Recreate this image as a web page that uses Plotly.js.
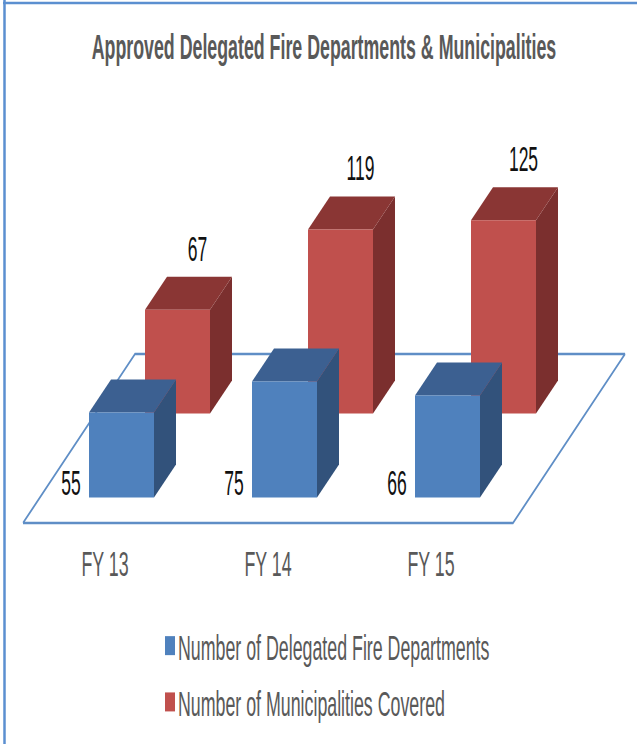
<!DOCTYPE html>
<html>
<head>
<meta charset="utf-8">
<script src="https://cdn.plot.ly/plotly-3.0.1.min.js"></script>
<style>
html,body{margin:0;padding:0;background:#fff;overflow:hidden;width:637px;height:744px}
#chart{transform-origin:0 0;position:absolute;left:0;top:0}
</style>
</head>
<body>
<div id="chart"></div>
<script>
// Data
var categories = ['FY 13', 'FY 14', 'FY 15'];
var delegatedDepartments = [55, 75, 66];
var municipalitiesCovered = [67, 119, 125];
var seriesNames = ['Number of Delegated Fire Departments', 'Number of Municipalities Covered'];

// Reference is squeezed horizontally: draw wider and condense the whole figure
var SX = 0.5, W = 637 / SX, H = 744;
var PX_PER_CAT = 163, PX_PER_VAL = 1.547;
var ZERO_X = 105, ZERO_Y = 497.5, PLOT_BOTTOM = 539;

var BAR_W = 65 / PX_PER_CAT, BAR_OFF = -16 / PX_PER_CAT;
var DX = 22 / PX_PER_CAT, DY = 33 / PX_PER_VAL;
var ROW_DX = 56 / PX_PER_CAT, ROW_DY = 84 / PX_PER_VAL;

function poly(xs, ys, color) {
  return {type: 'scatter', mode: 'lines', x: xs.concat(xs[0]), y: ys.concat(ys[0]), fill: 'toself',
    fillcolor: color, line: {width: 0, color: color}, showlegend: false, hoverinfo: 'skip'};
}
function box(i, value, row, front, side, top) {
  var x0 = i + BAR_OFF + row * ROW_DX, x1 = x0 + BAR_W;
  var b = row * ROW_DY, t = b + value;
  return [
    poly([x1, x1 + DX, x1 + DX, x1], [b, b + DY, t + DY, t], side),
    poly([x0, x1, x1 + DX, x0 + DX], [t, t, t + DY, t + DY], top),
    poly([x0, x1, x1, x0], [b, b, t, t], front)
  ];
}

var traces = [];
// Floor
var fy0 = (ZERO_Y - 523) / PX_PER_VAL, fy1 = (ZERO_Y - 354) / PX_PER_VAL;
var fx0 = (23 - ZERO_X) / PX_PER_CAT, fx1 = (513 - ZERO_X) / PX_PER_CAT, fdx = 112 / PX_PER_CAT;
traces.push({type: 'scatter', mode: 'lines',
  x: [fx0, fx1, fx1 + fdx, fx0 + fdx, fx0], y: [fy0, fy0, fy1, fy1, fy0],
  line: {color: '#5f8ec6', width: 2.6}, showlegend: false, hoverinfo: 'skip'});
// Back row (municipalities), then front row (departments)
municipalitiesCovered.forEach(function (v, i) { traces = traces.concat(box(i, v, 1, '#c0504d', '#7b2f2e', '#8a3634')); });
delegatedDepartments.forEach(function (v, i) { traces = traces.concat(box(i, v, 0, '#4f81bd', '#32527b', '#3c6091')); });

// Data labels
traces.push({type: 'scatter', mode: 'text', x: categories.map(function (c, i) { return i - 34 / PX_PER_CAT; }),
  y: delegatedDepartments.map(function () { return (ZERO_Y - 486) / PX_PER_VAL; }),
  text: delegatedDepartments.map(String), textposition: 'middle center',
  textfont: {family: 'Liberation Sans', size: 35, color: '#111'}, showlegend: false, hoverinfo: 'skip'});
traces.push({type: 'scatter', mode: 'text', x: categories.map(function (c, i) { return i + 92.5 / PX_PER_CAT; }),
  y: municipalitiesCovered.map(function (v) { return v + ROW_DY + 58 / PX_PER_VAL; }),
  text: municipalitiesCovered.map(String), textposition: 'middle center',
  textfont: {family: 'Liberation Sans', size: 35, color: '#111'}, showlegend: false, hoverinfo: 'skip'});

// Legend entries
[['#4f81bd', 0], ['#c0504d', 1]].forEach(function (e) {
  traces.push({type: 'scatter', mode: 'markers', x: [null], y: [null], name: seriesNames[e[1]],
    legendgroup: 'g' + e[1], marker: {symbol: 'square', size: 12, color: e[0]}, hoverinfo: 'skip'});
});

var layout = {
  width: W, height: H,
  margin: {l: 0, r: 0, t: 0, b: H - PLOT_BOTTOM, pad: 0},
  paper_bgcolor: '#fff', plot_bgcolor: 'rgba(0,0,0,0)',
  title: {text: 'Approved Delegated Fire Departments & Municipalities',
    font: {family: 'Liberation Sans', size: 35.6, color: '#595959', weight: 'bold'},
    x: 324 / 637, xanchor: 'center', y: 1 - 47 / H, yanchor: 'middle'},
  xaxis: {range: [-ZERO_X / PX_PER_CAT, (637 - ZERO_X) / PX_PER_CAT], tickmode: 'array',
    tickvals: [0, 1, 2], ticktext: categories, showgrid: false, zeroline: false, showline: false, ticks: '',
    ticklabelstandoff: 0, tickfont: {family: 'Liberation Sans', size: 35.6, color: '#595959'}, fixedrange: true},
  yaxis: {range: [(ZERO_Y - PLOT_BOTTOM) / PX_PER_VAL, ZERO_Y / PX_PER_VAL], visible: false, fixedrange: true},
  legend: {x: 158 / 637, xanchor: 'left', y: 1 - 616 / H, yref: 'container', yanchor: 'top',
    orientation: 'v', tracegroupgap: 7, bgcolor: 'rgba(0,0,0,0)', traceorder: 'grouped',
    font: {family: 'Liberation Sans', size: 35.6, color: '#595959'}},
  shapes: [
    {type: 'line', xref: 'paper', yref: 'paper', x0: 4.5 / 637, x1: 4.5 / 637, y0: -(H - PLOT_BOTTOM) / PLOT_BOTTOM, y1: 1, line: {color: '#5b8fd0', width: 5}},
    {type: 'line', xref: 'paper', yref: 'paper', x0: 3 / 637, x1: 1, y0: 1 - 3 / PLOT_BOTTOM, y1: 1 - 3 / PLOT_BOTTOM, line: {color: '#5b8fd0', width: 2.4}}
  ]
};

var el = document.getElementById('chart');
el.style.width = W + 'px';
el.style.height = H + 'px';
el.style.transform = 'scaleX(' + SX + ')';
Plotly.newPlot(el, traces, layout, {staticPlot: true, displayModeBar: false}).then(function () {
  // Tall narrow legend swatches, close to the legend text, as in the reference
  el.querySelectorAll('.legendpoints path.scatterpts').forEach(function (p) {
    p.setAttribute('d', 'M-10,-9.5H10V9.5H-10Z');
    p.setAttribute('transform', 'translate(24,0)');
  });
});
</script>
</body>
</html>
